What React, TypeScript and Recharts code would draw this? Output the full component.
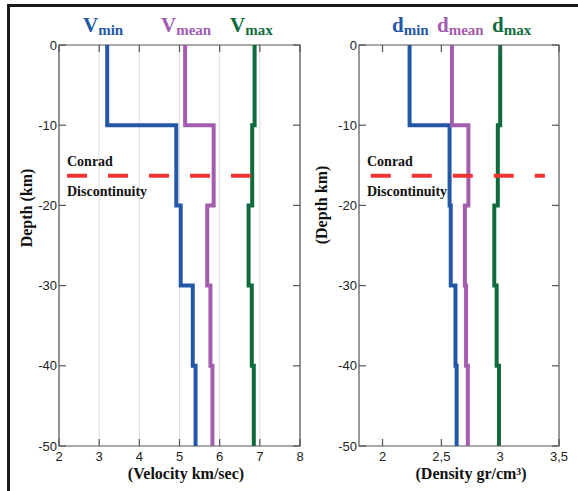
import React from 'react';
import { LineChart, Line, XAxis, YAxis, CartesianGrid, ReferenceArea } from 'recharts';

// layer boundaries (km, negative = depth)
const DEPTHS = [0, -10, -20, -30, -40, -50];
const DEPTH_TICKS = [0, -10, -20, -30, -40, -50];

// velocity per layer (km/sec)
const V_MIN = [3.2, 4.92, 5.03, 5.33, 5.4];
const V_MEAN = [5.14, 5.85, 5.69, 5.77, 5.82];
const V_MAX = [6.87, 6.81, 6.72, 6.8, 6.85];
const VEL_TICKS = [2, 3, 4, 5, 6, 7, 8];

// density per layer (gr/cm3)
const D_MIN = [2.23, 2.57, 2.58, 2.62, 2.63];
const D_MEAN = [2.59, 2.73, 2.7, 2.71, 2.725];
const D_MAX = [3.0, 2.98, 2.95, 2.97, 2.99];
const DENS_TICKS = [2, 2.5, 3, 3.5];

// Conrad discontinuity
const CONRAD_DEPTH = -16.3;
const CONRAD_VEL = [2.2, 6.78];
const CONRAD_DENS = [1.9, 3.38];

const BLUE = '#2557a7';
const PURPLE = '#a35dae';
const GREEN = '#0f6b3c';
const RED = '#ee3434';
const AXIS = '#555555';

// plot box inside each chart svg
const TOP = 45;
const BOTTOM = 446;
const LEFT = 59;
const TICK_LEN = 7;

const steps = (vals: number[]) =>
  vals.flatMap((v, i) => [
    { x: v, depth: DEPTHS[i] },
    { x: v, depth: DEPTHS[i + 1] },
  ]);

const flat = (xs: number[], depth: number) => xs.map((x) => ({ x, depth }));

const fmt = (v: number) => String(v).replace('.', ',');

const TICK_FONT = { fontFamily: 'Liberation Sans, Arial, sans-serif', fontSize: 13, fill: '#222' };

// matlab style: labels outside, marks pointing into the box on all four sides
const makeLeftTick = (right: number) => (props: any) => {
  const { y, payload } = props;
  return (
    <g>
      <line x1={LEFT} x2={LEFT + TICK_LEN} y1={y} y2={y} stroke={AXIS} strokeWidth={1.2} />
      <line x1={right - TICK_LEN} x2={right} y1={y} y2={y} stroke={AXIS} strokeWidth={1.2} />
      <text x={LEFT - 2} y={y} dy={4.5} textAnchor="end" {...TICK_FONT}>
        {payload.value}
      </text>
    </g>
  );
};

const BottomTick = (props: any) => {
  const { x, payload } = props;
  return (
    <g>
      <line x1={x} x2={x} y1={BOTTOM} y2={BOTTOM - TICK_LEN} stroke={AXIS} strokeWidth={1.2} />
      <line x1={x} x2={x} y1={TOP} y2={TOP + TICK_LEN} stroke={AXIS} strokeWidth={1.2} />
      <text x={x} y={BOTTOM + 15} textAnchor="middle" {...TICK_FONT}>
        {fmt(payload.value)}
      </text>
    </g>
  );
};

const Panel = ({
  width,
  marginRight,
  domain,
  ticks,
  series,
  conrad,
  grid,
}: {
  width: number;
  marginRight: number;
  domain: [number, number];
  ticks: number[];
  series: { data: { x: number; depth: number }[]; color: string }[];
  conrad: number[];
  grid: boolean;
}) => (
  <LineChart width={width} height={491} margin={{ top: TOP, right: marginRight, bottom: 44, left: LEFT - 1 }}>
    {grid && <CartesianGrid horizontal={false} stroke="#dddddd" strokeWidth={1} />}
    <XAxis
      dataKey="x"
      type="number"
      domain={domain}
      ticks={ticks}
      height={1}
      tickLine={false}
      axisLine={false}
      tick={BottomTick}
      interval={0}
    />
    <YAxis
      dataKey="depth"
      type="number"
      domain={[-50, 0]}
      ticks={DEPTH_TICKS}
      width={1}
      tickLine={false}
      axisLine={false}
      tick={makeLeftTick(width - marginRight)}
      interval={0}
    />
    <ReferenceArea
      x1={domain[0]}
      x2={domain[1]}
      y1={-50}
      y2={0}
      fill="none"
      stroke={AXIS}
      strokeWidth={1.2}
      ifOverflow="visible"
    />
    {series.map((s, i) => (
      <Line
        key={i}
        data={s.data}
        dataKey="depth"
        stroke={s.color}
        strokeWidth={4}
        dot={false}
        type="linear"
        isAnimationActive={false}
      />
    ))}
    <Line
      data={flat(conrad, CONRAD_DEPTH)}
      dataKey="depth"
      stroke={RED}
      strokeWidth={4}
      strokeDasharray="20 21"
      dot={false}
      type="linear"
      isAnimationActive={false}
    />
  </LineChart>
);

const SERIF = 'Liberation Serif, Times New Roman, serif';

const Legend = ({ x, main, sub, color }: { x: number; main: string; sub: string; color: string }) => (
  <text x={x} y={32} fontFamily={SERIF} fontWeight="bold" fill={color}>
    <tspan fontSize={21}>{main}</tspan>
    <tspan fontSize={15} dy={3}>
      {sub}
    </tspan>
  </text>
);

export default function App() {
  return (
    <div style={{ position: 'absolute', left: 0, top: 0, width: 578, height: 491, background: '#fff', overflow: 'hidden' }}>
      <div
        style={{
          position: 'absolute',
          left: 7,
          top: 4,
          width: 600,
          height: 500,
          borderTop: '3px solid #1a1a1a',
          borderLeft: '3px solid #1a1a1a',
        }}
      />
      <div style={{ position: 'absolute', left: 0, top: 0 }}>
        <Panel
          width={310}
          marginRight={10}
          domain={[2, 8]}
          ticks={VEL_TICKS}
          grid
          conrad={CONRAD_VEL}
          series={[
            { data: steps(V_MIN), color: BLUE },
            { data: steps(V_MEAN), color: PURPLE },
            { data: steps(V_MAX), color: GREEN },
          ]}
        />
      </div>
      <div style={{ position: 'absolute', left: 300, top: 0 }}>
        <Panel
          width={278}
          marginRight={19}
          domain={[1.8, 3.5]}
          ticks={DENS_TICKS}
          grid={false}
          conrad={CONRAD_DENS}
          series={[
            { data: steps(D_MIN), color: BLUE },
            { data: steps(D_MEAN), color: PURPLE },
            { data: steps(D_MAX), color: GREEN },
          ]}
        />
      </div>
      <svg width={578} height={491} style={{ position: 'absolute', left: 0, top: 0, pointerEvents: 'none' }}>
        <Legend x={83} main="V" sub="min" color={BLUE} />
        <Legend x={161} main="V" sub="mean" color={PURPLE} />
        <Legend x={230} main="V" sub="max" color={GREEN} />
        <Legend x={392} main="d" sub="min" color={BLUE} />
        <Legend x={437} main="d" sub="mean" color={PURPLE} />
        <Legend x={492} main="d" sub="max" color={GREEN} />

        <g fontFamily={SERIF} fontWeight="bold" fontSize={14} fill="#111">
          <text x={67} y={166}>Conrad</text>
          <text x={67} y={196}>Discontinuity</text>
          <text x={367} y={166}>Conrad</text>
          <text x={367} y={196}>Discontinuity</text>
        </g>

        <g fontFamily={SERIF} fontWeight="bold" fontSize={16} fill="#111">
          <text x={186} y={479} textAnchor="middle">(Velocity km/sec)</text>
          <text x={471} y={479} textAnchor="middle">(Density gr/cm³)</text>
          <text x={32} y={208} textAnchor="middle" transform="rotate(-90 32 208)">Depth (km)</text>
          <text x={327} y={205} textAnchor="middle" transform="rotate(-90 327 205)">(Depth km)</text>
        </g>
      </svg>
    </div>
  );
}
